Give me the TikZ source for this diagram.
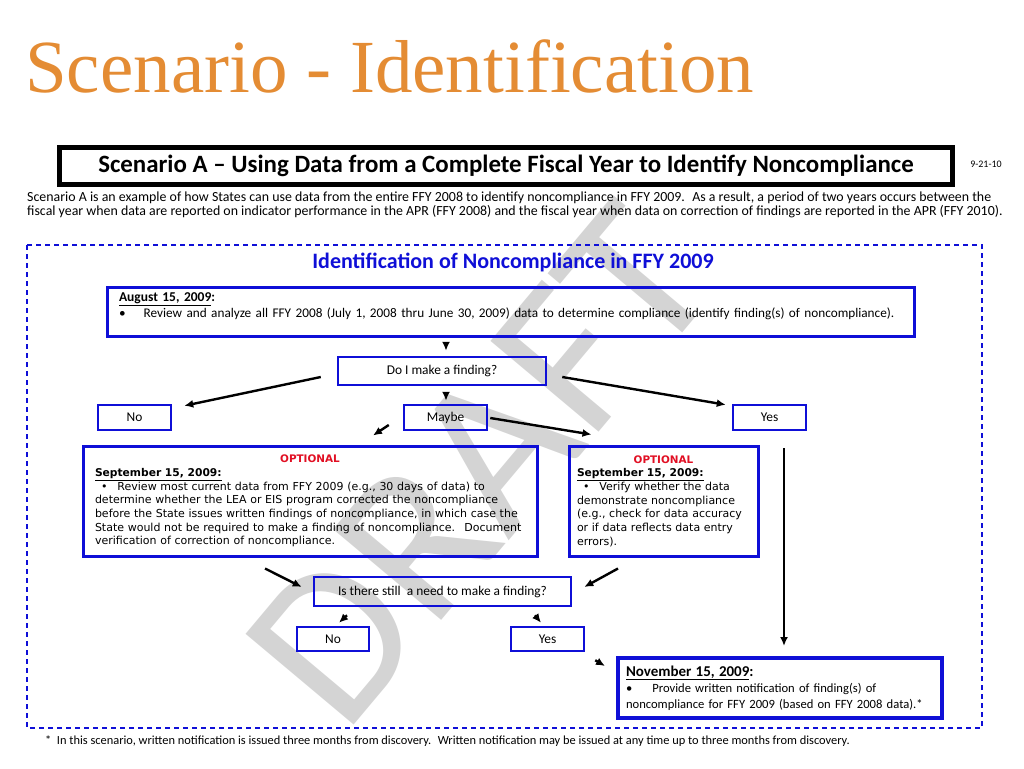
\documentclass[tikz,border=0pt]{standalone}
\usepackage{fontspec}
\setmainfont{Carlito}
\newfontfamily\verdfont{DejaVu Sans}
\newfontfamily\titlefont{Liberation Serif}
\usetikzlibrary{arrows.meta}
\definecolor{titleorange}{RGB}{228,140,52}
\definecolor{flowblue}{RGB}{15,15,215}
\definecolor{optred}{RGB}{225,15,35}
\definecolor{markgray}{RGB}{212,212,212}
\begin{document}
\begin{tikzpicture}[x=1pt, y=-1pt,
    box/.style={rectangle, draw=flowblue, line width=2.5pt, align=center, font=\fontsize{13.4}{15}\selectfont},
    bigbox/.style={box, line width=3pt, align=left, inner sep=0pt, font=\fontsize{13.25}{16}\selectfont},
    optbox/.style={bigbox, font=\verdfont\fontsize{11}{13.7}\selectfont},
    arrow/.style={-{Latex[length=9pt, width=8pt]}, line width=2.4pt},
    dashframe/.style={draw=flowblue, line width=1.2pt, dash pattern=on 5pt off 4pt}
]
    \useasboundingbox (0,0) rectangle (1024,768);
    % watermark
    \node[rotate=50, text=markgray, font=\fontsize{220}{220}\selectfont] (draft) at (480,465) {DRAFT};
    % heading
    \node[anchor=base west, text=titleorange, font=\titlefont\fontsize{75}{80}\selectfont, inner sep=0pt] (title) at (25,92) {Scenario - Identification};
    \node[rectangle, draw, line width=5pt, minimum width=893pt, minimum height=37pt, font=\bfseries\fontsize{24.9}{26}\selectfont] (hdr) at (506,165.5) {Scenario A – Using Data from a Complete Fiscal Year to Identify Noncompliance};
    \node[font=\fontsize{10}{11}\selectfont] (date) at (986,164) {9-21-10};
    \node[anchor=north west, inner sep=0pt, align=left, font=\fontsize{13.9}{14}\selectfont] (intro) at (27,191.5) {Scenario A is an example of how States can use data from the entire FFY 2008 to identify noncompliance in FFY 2009.~ As a result, a period of two years occurs between the\\fiscal year when data are reported on indicator performance in the APR (FFY 2008) and the fiscal year when data on correction of findings are reported in the APR (FFY 2010).};
    \draw[dashframe] (27,245) rectangle (982,728);
    \node[text=flowblue, font=\bfseries\fontsize{22}{24}\selectfont] (sub) at (513,262) {Identification of Noncompliance in FFY 2009};
    % flow
    \node[bigbox, minimum width=807pt, minimum height=49pt, text width=783pt] (aug) at (510.5,311.5) {{\fontsize{13.5}{16}\selectfont\bfseries\underline{August 15, 2009}:}\\\textbullet\hspace{18pt}Review and analyze all FFY 2008 (July 1, 2008 thru June 30, 2009) data to determine compliance (identify finding(s) of noncompliance).\\[-3pt]\mbox{}};
    \node[box, minimum width=208pt, minimum height=28pt] (find) at (442,371) {Do I make a finding?};
    \node[box, minimum width=73pt, minimum height=25pt] (no) at (134.5,417.5) {No};
    \node[box, minimum width=83pt, minimum height=25pt] (maybe) at (445.5,417.5) {Maybe};
    \node[box, minimum width=73pt, minimum height=25pt] (yes) at (769.5,417.5) {Yes};
    \node[optbox, minimum width=454pt, minimum height=110pt, text width=430pt] (optl) at (310,501) {\makebox[430pt]{\bfseries\fontsize{10.4}{13.7}\selectfont\color{optred}OPTIONAL}\\{\fontsize{10.7}{13.7}\selectfont\bfseries\underline{September 15, 2009:}}\\\hspace{6pt}\textbullet\hspace{10pt}Review most current data from FFY 2009 (e.g., 30 days of data) to\\determine whether the LEA or EIS program corrected the noncompliance\\before the State issues written findings of noncompliance, in which case the\\State would not be required to make a finding of noncompliance.~ Document\\verification of correction of noncompliance.};
    \node[optbox, minimum width=189pt, minimum height=110pt, text width=173pt] (optr) at (663.5,501) {\makebox[173pt]{\bfseries\fontsize{10.4}{13.7}\selectfont\color{optred}OPTIONAL}\\{\fontsize{10.7}{13.7}\selectfont\bfseries\underline{September 15, 2009:}}\\\hspace{6pt}\textbullet\hspace{10pt}Verify whether the data\\demonstrate noncompliance\\(e.g., check for data accuracy\\or if data reflects data entry\\errors).};
    \node[box, minimum width=257pt, minimum height=29pt] (still) at (442.5,591.5) {Is there still~ a need to make a finding?};
    \node[box, minimum width=72pt, minimum height=24pt] (no2) at (333,639) {No};
    \node[box, minimum width=73pt, minimum height=24pt] (yes2) at (547.5,639) {Yes};
    \node[bigbox, line width=4pt, minimum width=324pt, minimum height=60pt, text width=308pt, font=\fontsize{12.6}{16}\selectfont] (nov) at (780,688) {{\fontsize{15}{16}\selectfont\bfseries\underline{November 15, 2009}:}\\\textbullet\hspace{20pt}Provide written notification of finding(s) of\\noncompliance for FFY 2009 (based on FFY 2008 data).*};
    \node[anchor=base west, inner sep=0pt, font=\fontsize{12.4}{13}\selectfont] (foot) at (45,744) {*~ In this scenario, written notification is issued three months from discovery.~ Written notification may be issued at any time up to three months from discovery.};
    % connectors
    \draw[arrow] ([shift={(-64.5,7)}]aug.south) -- ([shift={(4,-5)}]find.north);
    \draw[arrow] ([shift={(-16,6)}]find.west) -- ([shift={(12,2)}]no.north east);
    \draw[arrow] ([shift={(15,6)}]find.east) -- ([shift={(-6,1)}]yes.north west);
    \draw[arrow] ([shift={(4,8)}]find.south) -- ([shift={(0.5,-3)}]maybe.north);
    \draw[arrow] ([shift={(-14,7.5)}]maybe.west) -- ([shift={(63,-9)}]optl.north);
    \draw[arrow] ([shift={(2,0.5)}]maybe.east) -- ([shift={(24,-10)}]optr.north west);
    \draw[arrow] ([shift={(14.5,17)}]yes.south) -- ([shift={(4,-10)}]nov.north);
    \draw[arrow] ([shift={(-45,11)}]optl.south) -- ([shift={(-11,-4.5)}]still.west);
    \draw[arrow] ([shift={(-45.5,11)}]optr.south) -- ([shift={(12,-4.5)}]still.east);
    \draw[arrow] ([shift={(-95.5,8)}]still.south) -- ([shift={(6,-3)}]no2.north);
    \draw[arrow] ([shift={(92.5,8)}]still.south) -- ([shift={(-6.5,-3)}]yes2.north);
    \draw[arrow] ([shift={(10,8)}]yes2.south east) -- ([shift={(-11,10)}]nov.north west);
\end{tikzpicture}
\end{document}
